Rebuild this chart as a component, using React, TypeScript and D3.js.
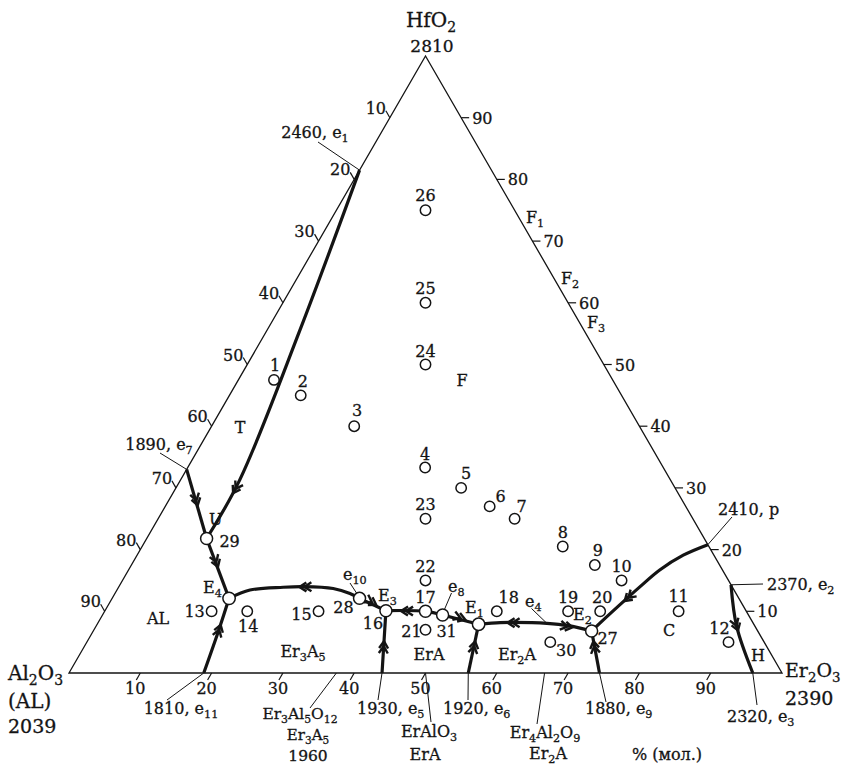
import React from 'react'
import * as d3 from 'd3'

// compositions in mol. %: [HfO2, Er2O3]; Al2O3 is the remainder
const samples: [string, number, number][] = [
  ['1', 47.5, 5], ['2', 45, 10], ['3', 40, 20], ['4', 33.3, 33.3],
  ['5', 30, 40], ['6', 27, 45.5], ['7', 25, 50], ['8', 20.5, 59],
  ['9', 17.5, 65], ['10', 15, 70], ['11', 10, 80.5], ['12', 5, 90],
  ['13', 10, 15], ['14', 10, 20], ['15', 10, 30], ['16', 10.1, 39.4],
  ['17', 10, 45], ['18', 10, 55], ['19', 10, 65], ['20', 10, 69.5],
  ['21', 7, 46.5], ['22', 15, 42.5], ['23', 25, 37.5], ['24', 50, 25],
  ['25', 60, 20], ['26', 75, 12.5], ['27', 6.8, 69.9], ['28', 12.1, 34.7],
  ['29', 21.8, 8.4], ['30', 5, 65], ['31', 9.4, 47.7],
]
const onLine = ['16', '17', '27', '28', '29', '31']
const eutectics: [string, number, number][] = [['E4', 12.1, 16.4], ['E1', 7.9, 53.5]]

// boundary curves (liquidus valleys), [HfO2, Er2O3]
const e1ToU: [number, number][] = [[81.5, 0], [55.6, 4.6], [31.3, 8.3], [21.8, 8.4]]
const e7ToU: [number, number][] = [[33, 0], [21.8, 8.4]]
const uToE4: [number, number][] = [[21.8, 8.4], [12.1, 16.4]]
const e11ToE4: [number, number][] = [[0, 18.9], [7.1, 17.5], [12.1, 16.4]]
const e10ToE4: [number, number][] = [[12.1, 34.7], [12.9, 32.95], [13.7, 30.2], [14.0, 25.9], [13.9, 23.1], [13.45, 18.66], [12.1, 16.4]]
const e10ToE3: [number, number][] = [[12.1, 34.7], [10.1, 39.4]]
const e8ToE3: [number, number][] = [[9.4, 47.7], [10, 45], [10.1, 39.4]]
const e8ToE1: [number, number][] = [[9.4, 47.7], [7.9, 53.5]]
const e5ToE3: [number, number][] = [[0, 43.9], [10.1, 39.4]]
const e6ToE1: [number, number][] = [[0, 56], [7.9, 53.5]]
const e4Curve: [number, number][] = [[7.9, 53.5], [8.15, 56.4], [8.2, 58.2], [8.05, 63.0], [7.67, 66.2], [6.8, 69.9]]
const pToE2: [number, number][] = [[20.8, 79.2], [19.1, 76.6], [16.7, 74.5], [14.0, 73.1], [12.1, 72.2], [8.05, 70.4], [6.8, 69.9]]
const e9ToE2: [number, number][] = [[0, 74.4], [6.8, 69.9]]
const e2ToE3: [number, number][] = [[14.3, 85.7], [7.5, 89.9], [0, 95.9]]
const curves = [e1ToU, e7ToU, uToE4, e11ToE4, e10ToE4, e10ToE3, e8ToE3, e8ToE1, e5ToE3, e6ToE1, e4Curve, pToE2, e9ToE2, e2ToE3]

// arrows: [at HfO2, at Er2O3, toward HfO2, toward Er2O3]
const arrows: [number, number, number, number][] = [
  [29.7, 8.45, 21.8, 8.4], [27.8, 4.0, 21.8, 8.4], [17.8, 11.8, 12.1, 16.4],
  [7.2, 17.5, 12.1, 16.4], [13.95, 25.9, 13.9, 23.1], [11.4, 36.9, 10.1, 39.4],
  [10.05, 42.1, 10.1, 39.4], [8.87, 50.6, 7.9, 53.5], [4.5, 41.9, 10.1, 39.4],
  [4.5, 54.6, 7.9, 53.5], [8.15, 58.0, 8.15, 56.4], [7.5, 66.3, 6.8, 69.9],
  [12.1, 72.3, 8.05, 70.4], [4.5, 71.4, 6.8, 69.9], [7.5, 89.9, 0, 95.9],
]

const ticks = [10, 20, 30, 40, 50, 60, 70, 80, 90]

const labelOffsets: Record<string, [number, number]> = {
  '1': [1, -9], '2': [2, -8], '3': [3, -10], '4': [0, -8], '5': [5, -9],
  '6': [11, -4], '7': [7, -7], '8': [0, -8.5], '9': [3, -9], '10': [0, -8],
  '11': [0, -9.5], '12': [-9, -8], '13': [-17, 6], '14': [1, 21], '15': [-17, 9],
  '16': [-13, 18], '17': [0, -8.5], '18': [12, -8], '19': [0, -8], '20': [2, -8],
  '21': [-14, 7.5], '22': [0, -8], '23': [0, -9], '24': [0, -8], '25': [0, -9],
  '26': [0, -9], '27': [16, 13], '28': [-16, 15], '29': [23, 9], '30': [16, 14],
  '31': [4, 22],
}

const x = d3.scaleLinear().domain([0, 100]).range([69, 782])
const y = d3.scaleLinear().domain([0, 100]).range([673, 56])
const proj = (hf: number, er: number): [number, number] => [x(er + hf / 2), y(hf)]

const line = d3.line<[number, number]>()
  .x(d => proj(d[0], d[1])[0])
  .y(d => proj(d[0], d[1])[1])
  .curve(d3.curveCatmullRom.alpha(0.5))

const INK = '#141414'
const FONT = 'DejaVu Serif'

function Rich({ text, x, y, anchor = 'start', size = 16 }: { text: string, x: number, y: number, anchor?: string, size?: number }) {
  const parts = text.split(/(\{[^}]*\})/).filter(Boolean)
  const shift = size * 0.25
  let down = false
  return (
    <text x={x} y={y} textAnchor={anchor} fontSize={size} fontFamily={FONT} fill={INK}
      stroke={INK} strokeWidth={0.3}>
      {parts.map((p, i) => {
        if (p.startsWith('{')) {
          down = true
          return <tspan key={i} dy={shift} fontSize={size * 0.7}>{p.slice(1, -1)}</tspan>
        }
        const dy = down ? -shift : 0
        down = false
        return <tspan key={i} dy={dy}>{p}</tspan>
      })}
    </text>
  )
}

function Arrow({ a }: { a: [number, number, number, number] }) {
  const p = proj(a[0], a[1])
  const q = proj(a[2], a[3])
  const len = Math.hypot(q[0] - p[0], q[1] - p[1])
  const d = [(q[0] - p[0]) / len, (q[1] - p[1]) / len]
  const n = [-d[1], d[0]]
  const path = [4, -1].map(s => {
    const t = [p[0] + d[0] * s, p[1] + d[1] * s]
    const b = [t[0] - d[0] * 7, t[1] - d[1] * 7]
    return `M${b[0] + n[0] * 4.5},${b[1] + n[1] * 4.5}L${t[0]},${t[1]}L${b[0] - n[0] * 4.5},${b[1] - n[1] * 4.5}`
  }).join('')
  return <path d={path} fill="none" stroke={INK} strokeWidth={2.4} />
}

function Leader({ from, to }: { from: [number, number], to: [number, number] }) {
  return <line x1={from[0]} y1={from[1]} x2={to[0]} y2={to[1]} stroke={INK} strokeWidth={1} />
}

export default function App() {
  const A = proj(0, 0)
  const B = proj(0, 100)
  const C = proj(100, 0)

  return (
    <svg width={842} height={766} style={{ position: 'absolute', left: 0, top: 0, background: '#fff' }}>
      <path d={`M${A}L${B}L${C}Z`} fill="none" stroke={INK} strokeWidth={1.3} />

      {/* bottom axis: Er2O3 */}
      {ticks.map(v => {
        const [px, py] = proj(0, v)
        return (
          <g key={'b' + v}>
            <line x1={px} y1={py} x2={px - 4} y2={py + 7} stroke={INK} strokeWidth={1.2} />
            <Rich text={String(v)} x={px - 5} y={py + 21} anchor="middle" />
          </g>
        )
      })}
      {/* left axis: Al2O3 */}
      {ticks.map(v => {
        const [px, py] = proj(100 - v, 0)
        return (
          <g key={'l' + v}>
            <line x1={px} y1={py} x2={px - 4} y2={py - 7} stroke={INK} strokeWidth={1.2} />
            <Rich text={String(v)} x={px - 14} y={py - 4} anchor="middle" />
          </g>
        )
      })}
      {/* right axis: HfO2 */}
      {ticks.map(v => {
        const [px, py] = proj(v, 100 - v)
        return (
          <g key={'r' + v}>
            <line x1={px} y1={py} x2={px + 8} y2={py} stroke={INK} strokeWidth={1.2} />
            <Rich text={String(v)} x={px + 11} y={py + 6} />
          </g>
        )
      })}

      {curves.map((c, i) => (
        <path key={i} d={line(c) ?? ''} fill="none" stroke={INK} strokeWidth={3.2} strokeLinejoin="round" />
      ))}
      {arrows.map((a, i) => <Arrow key={i} a={a} />)}

      {/* leaders */}
      <Leader from={[318, 142]} to={proj(e1ToU[0][0], e1ToU[0][1])} />
      <Leader from={[160, 453]} to={proj(e7ToU[0][0], e7ToU[0][1])} />
      <Leader from={[167, 700]} to={proj(e11ToE4[0][0], e11ToE4[0][1])} />
      <Leader from={[310, 708]} to={proj(0, 37.5)} />
      <Leader from={[378, 700]} to={proj(e5ToE3[0][0], e5ToE3[0][1])} />
      <Leader from={[431, 722]} to={proj(0, 50)} />
      <Leader from={[468, 700]} to={proj(e6ToE1[0][0], e6ToE1[0][1])} />
      <Leader from={[537, 724]} to={proj(0, 66.7)} />
      <Leader from={[606, 702]} to={proj(e9ToE2[0][0], e9ToE2[0][1])} />
      <Leader from={[757, 705]} to={proj(0, 95.9)} />
      <Leader from={[732, 517]} to={proj(pToE2[0][0], pToE2[0][1])} />
      <Leader from={[763, 584]} to={proj(e2ToE3[0][0], e2ToE3[0][1])} />
      <Leader from={[350, 583]} to={[356.5, 593]} />
      <Leader from={[451.5, 593]} to={[444, 610.5]} />
      <Leader from={[531.5, 608.5]} to={proj(e4Curve[3][0], e4Curve[3][1])} />

      {samples.map(([id, hf, er]) => {
        const [px, py] = proj(hf, er)
        const big = onLine.includes(id)
        const [dx, dy] = labelOffsets[id]
        return (
          <g key={id}>
            <circle cx={px} cy={py} r={big ? 6 : 5.2} fill="#fff" stroke={INK} strokeWidth={1.5} />
            <Rich text={id} x={px + dx} y={py + dy} anchor="middle" />
          </g>
        )
      })}
      {eutectics.map(([id, hf, er]) => {
        const [px, py] = proj(hf, er)
        return <circle key={id} cx={px} cy={py} r={6.2} fill="#fff" stroke={INK} strokeWidth={1.5} />
      })}

      {/* vertices */}
      <Rich text="HfO{2}" x={431} y={27} anchor="middle" size={20} />
      <Rich text="2810" x={432} y={52} anchor="middle" size={17} />
      <Rich text="Al{2}O{3}" x={8} y={680} size={20} />
      <Rich text="(AL)" x={8} y={708} size={20} />
      <Rich text="2039" x={8} y={733} size={19} />
      <Rich text="Er{2}O{3}" x={785} y={677} size={19} />
      <Rich text="2390" x={785} y={705} size={19} />

      {/* invariant points */}
      <Rich text="2460, e{1}" x={315} y={138} anchor="middle" />
      <Rich text="1890, e{7}" x={159} y={450} anchor="middle" />
      <Rich text="1810, e{11}" x={181} y={714} anchor="middle" />
      <Rich text="Er{3}Al{5}O{12}" x={300} y={719} anchor="middle" size={15.5} />
      <Rich text="Er{3}A{5}" x={308} y={740} anchor="middle" size={15} />
      <Rich text="1960" x={308} y={761} anchor="middle" size={15.5} />
      <Rich text="1930, e{5}" x={357} y={714} />
      <Rich text="ErAlO{3}" x={429} y={737} anchor="middle" />
      <Rich text="ErA" x={425} y={760} anchor="middle" />
      <Rich text="1920, e{6}" x={443} y={714} />
      <Rich text="Er{4}Al{2}O{9}" x={545} y={738} anchor="middle" />
      <Rich text="Er{2}A" x={548} y={759} anchor="middle" />
      <Rich text="1880, e{9}" x={585} y={714} />
      <Rich text="2320, e{3}" x={727} y={722} />
      <Rich text="% (мол.)" x={632} y={760} />
      <Rich text="2410, p" x={718} y={515} />
      <Rich text="2370, e{2}" x={767} y={590} />
      <Rich text="E{4}" x={203} y={593} />
      <Rich text="E{3}" x={378} y={601} />
      <Rich text="E{1}" x={465} y={613} />
      <Rich text="E{2}" x={573} y={620} />
      <Rich text="U" x={209} y={525} />
      <Rich text="e{10}" x={343} y={580} />
      <Rich text="e{8}" x={448} y={592} />
      <Rich text="e{4}" x={525} y={607} />

      {/* phase fields */}
      <Rich text="T" x={240} y={433} anchor="middle" />
      <Rich text="F" x={462} y={386} anchor="middle" />
      <Rich text="AL" x={158} y={624} anchor="middle" />
      <Rich text="Er{3}A{5}" x={303} y={657} anchor="middle" />
      <Rich text="ErA" x={429} y={660} anchor="middle" />
      <Rich text="Er{2}A" x={517} y={660} anchor="middle" />
      <Rich text="C" x={669} y={636} anchor="middle" />
      <Rich text="H" x={758} y={661} anchor="middle" />
      <Rich text="F{1}" x={526} y={223} />
      <Rich text="F{2}" x={561} y={284} />
      <Rich text="F{3}" x={587} y={328} />
    </svg>
  )
}
